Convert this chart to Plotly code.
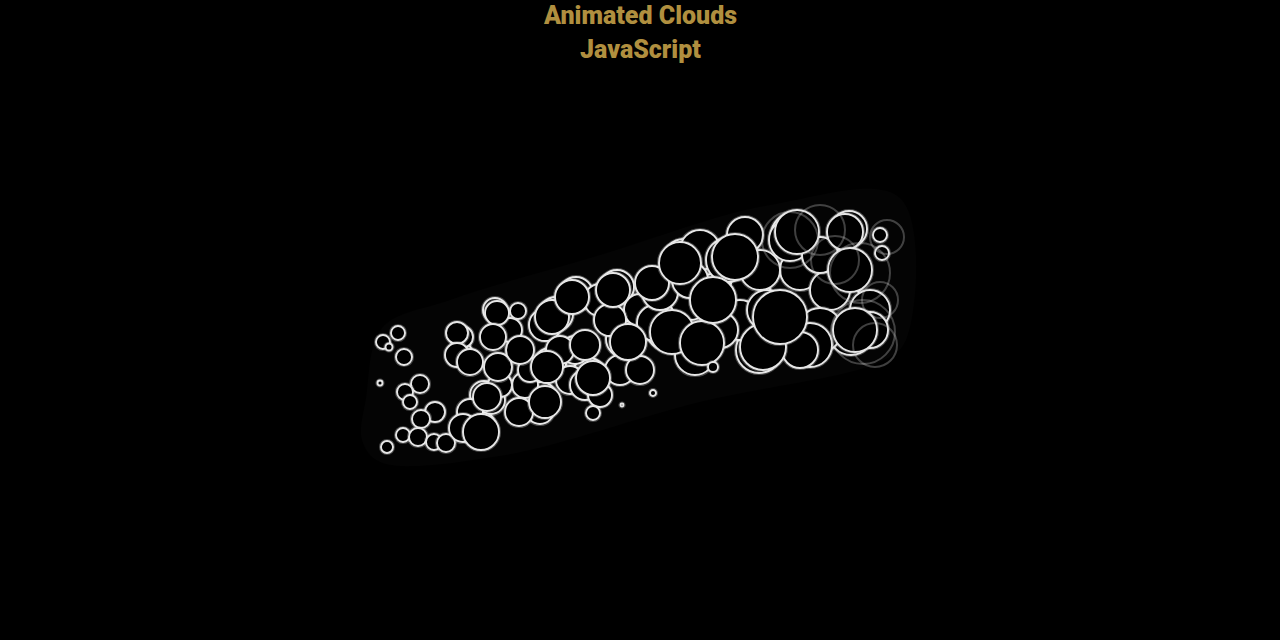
import plotly.graph_objects as go

# circle centres / radii in screen pixels, listed in draw order (back to front)
cloud_x = [510, 640, 690, 750, 800, 840, 870, 830, 760, 740, 620, 570, 575, 525,
           600, 545, 540, 585, 491, 462, 470, 655, 660, 695, 700, 728, 790, 820, 810,
           610, 560, 500, 530, 690, 745, 820, 800, 870, 720, 640, 600,
           383, 389, 398, 404, 380, 420, 405, 410, 435, 421, 403, 418, 434, 446, 387,
           457, 457, 470, 497, 518, 493, 498, 487, 463, 481, 519, 520,
           545, 547, 552, 572, 585, 593, 593, 613, 628, 622, 653, 652,
           680, 672, 702, 713, 713, 735, 767, 763, 780, 797, 845, 850, 855, 880, 882]
cloud_y = [330, 310, 300, 290, 270, 300, 310, 290, 270, 320, 370, 380, 350, 385,
           300, 325, 410, 385, 400, 337, 412, 323, 292, 355, 250, 260, 240, 330, 345,
           320, 350, 385, 370, 280, 235, 255, 350, 330, 330, 370, 395,
           342, 347, 333, 357, 383, 384, 392, 402, 412, 419, 435, 437, 442, 443, 447,
           333, 355, 362, 313, 311, 337, 367, 397, 428, 432, 412, 350,
           402, 367, 317, 297, 345, 378, 413, 290, 342, 405, 393, 283,
           263, 332, 343, 300, 367, 257, 310, 347, 317, 232, 232, 270, 330, 235, 253]
cloud_r = [12, 16, 20, 20, 20, 20, 20, 20, 20, 20, 15, 14, 14, 13,
           16, 16, 14, 15, 14, 11, 13, 18, 18, 20, 20, 22, 21, 22, 22,
           16, 14, 12, 12, 18, 18, 18, 18, 18, 18, 14, 12,
           7, 3.5, 7, 8, 2.5, 9, 8, 7, 10, 9, 7, 9, 8, 9, 6,
           11, 12, 13, 12, 8, 13, 14, 14, 14, 18, 14, 14,
           16, 16, 17, 17, 15, 17, 7, 17, 18, 1.5, 3, 17,
           21, 22, 22, 23, 5, 23, 20, 23, 27, 22, 18, 22, 22, 7, 7]

# slightly offset copies that leave the doubled outlines of the motion trail
trail_x = [484, 478, 541, 550, 556, 576, 589, 617, 624, 684, 668, 698, 717,
           731, 759, 776, 793, 849, 846, 851, 460, 495]
trail_y = [395, 428, 398, 364, 314, 294, 375, 287, 339, 260, 329, 346, 296,
           260, 350, 320, 235, 229, 273, 333, 353, 310]
trail_r = [14, 18, 16, 16, 17, 17, 17, 17, 18, 21, 22, 22, 23,
           23, 23, 27, 22, 18, 22, 22, 12, 12]

# faded trailing circles on the right edge
ghost_x = [860, 887, 863, 820, 880, 790, 835, 875]
ghost_y = [273, 237, 332, 230, 300, 240, 260, 345]
ghost_r = [30, 17, 32, 25, 18, 28, 24, 22]

# faint haze behind the cloud
haze_x = [362, 366, 382, 450, 600, 770, 900, 906, 880, 700, 500, 380, 362]
haze_y = [440, 398, 328, 300, 255, 205, 198, 340, 362, 402, 456, 462, 440]

# every circle gets a soft glow ring drawn just beneath its crisp outline
px, py, sizes, lw, lc = [], [], [], [], []
for x, y, r in zip(trail_x + cloud_x, trail_y + cloud_y, trail_r + cloud_r):
    px += [x, x]
    py += [y, y]
    sizes += [2 * r, 2 * r]
    lw += [4.2, 1.9]
    lc += ["rgba(255,255,255,0.25)", "#e6e6e6"]

fig = go.Figure()

fig.add_trace(go.Scatter(
    x=haze_x, y=haze_y, mode="lines", fill="toself",
    fillcolor="#040404", line=dict(width=0, color="#040404", shape="spline"),
    hoverinfo="skip", showlegend=False,
))

fig.add_trace(go.Scatter(
    x=px, y=py, mode="markers",
    marker=dict(size=sizes, color="#000000", opacity=1,
                line=dict(color=lc, width=lw)),
    hoverinfo="skip", showlegend=False,
))

fig.add_trace(go.Scatter(
    x=ghost_x, y=ghost_y, mode="markers",
    marker=dict(size=[2 * r for r in ghost_r], color="rgba(0,0,0,0)", opacity=1,
                line=dict(color="rgba(210,210,210,0.3)", width=2)),
    hoverinfo="skip", showlegend=False,
))

title_font = dict(family="Roboto", size=25, color="#b08f3f", weight=900)
fig.add_annotation(x=640, y=15, text="Animated Clouds", showarrow=False,
                   xref="x", yref="y", font=title_font)
fig.add_annotation(x=640, y=49, text="JavaScript", showarrow=False,
                   xref="x", yref="y", font=title_font)

fig.update_layout(
    width=1280, height=640,
    margin=dict(l=0, r=0, t=0, b=0),
    paper_bgcolor="#000000", plot_bgcolor="#000000",
    xaxis=dict(range=[0, 1280], visible=False, fixedrange=True),
    yaxis=dict(range=[640, 0], visible=False, fixedrange=True),
    hovermode=False,
)

fig.write_html("out.html", config={"displayModeBar": False},
               post_script="document.body.style.margin='0';document.body.style.background='#000';")
